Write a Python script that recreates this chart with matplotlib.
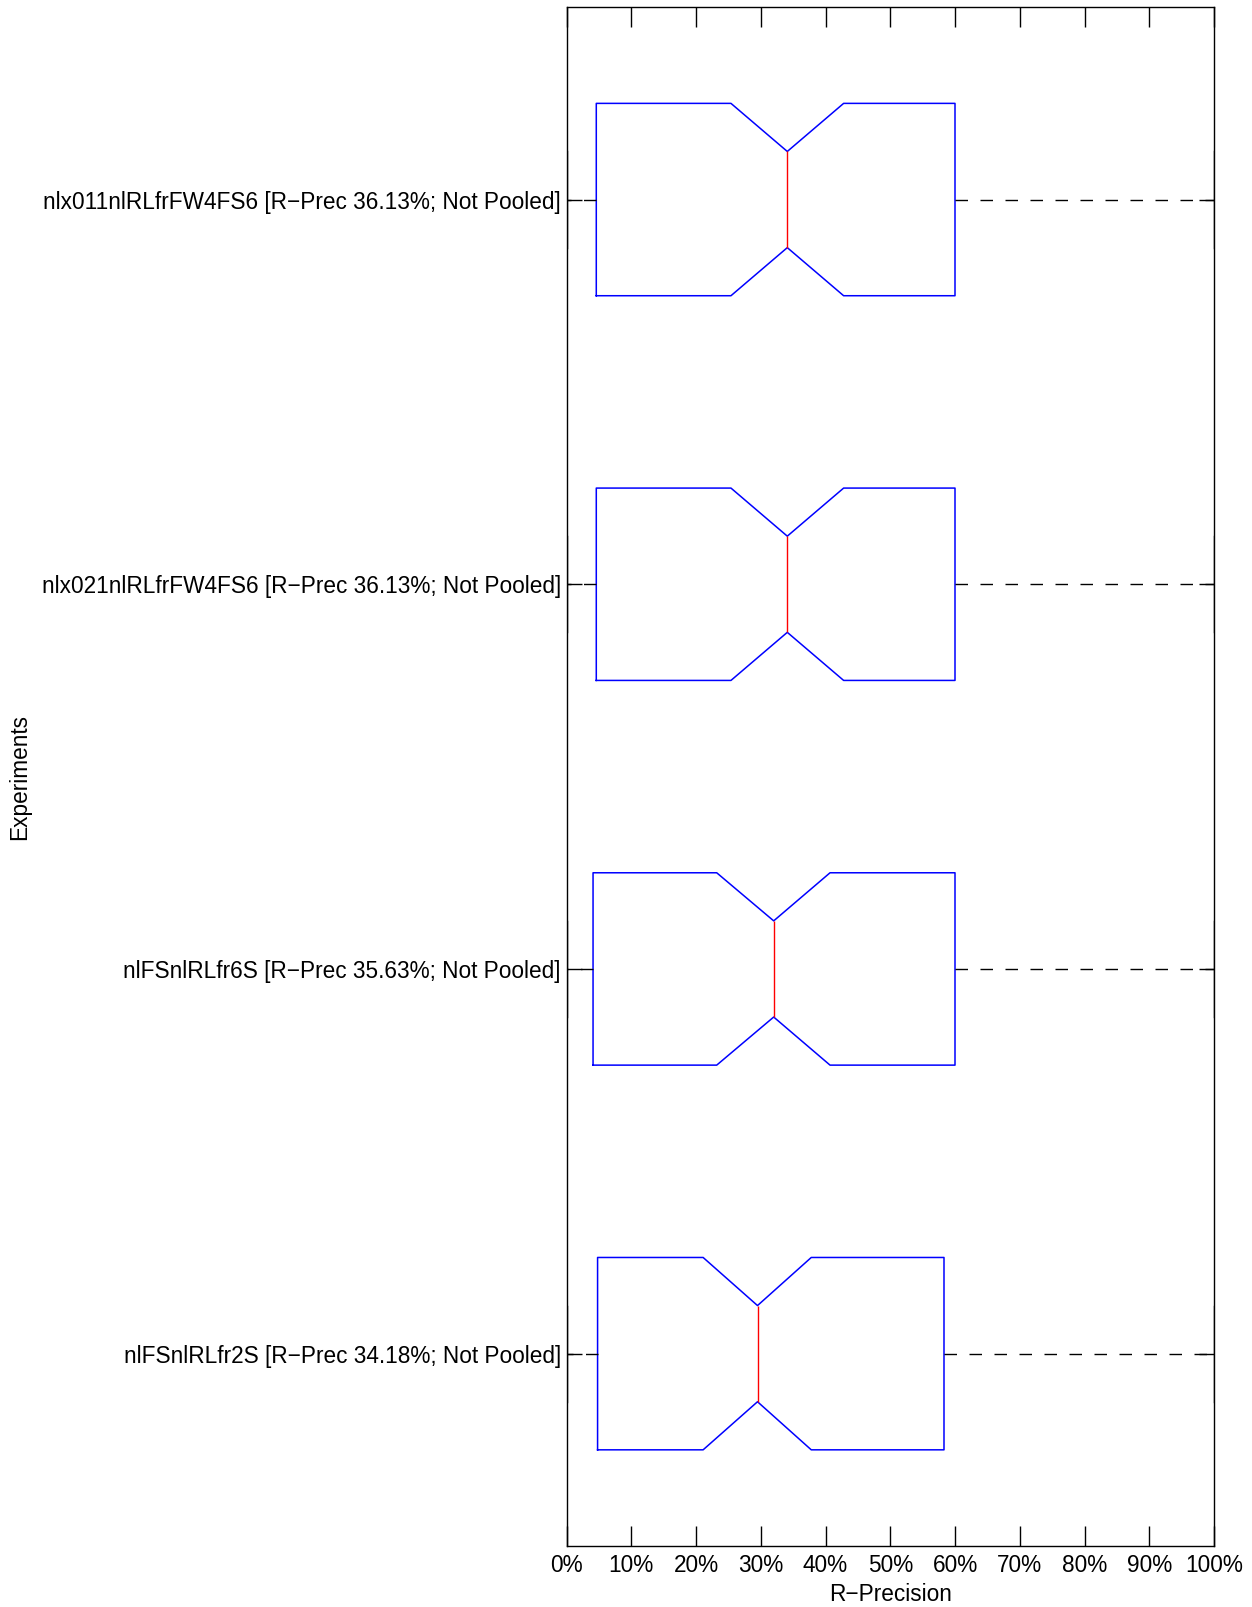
import matplotlib
matplotlib.use("Agg")
import matplotlib.pyplot as plt

plt.rcParams['font.family'] = ['Liberation Sans', 'DejaVu Sans']

# Experiments, top to bottom
experiments = [
    "nlx011nlRLfrFW4FS6 [R\u2212Prec 36.13%; Not Pooled]",
    "nlx021nlRLfrFW4FS6 [R\u2212Prec 36.13%; Not Pooled]",
    "nlFSnlRLfr6S [R\u2212Prec 35.63%; Not Pooled]",
    "nlFSnlRLfr2S [R\u2212Prec 34.18%; Not Pooled]",
]
# box statistics (percent)
whisker_low = [0.0, 0.0, 0.0, 0.0]
q1 = [4.6, 4.6, 4.1, 4.8]
notch_low = [25.4, 25.4, 23.2, 21.1]
median = [34.1, 34.1, 32.0, 29.5]
notch_high = [42.8, 42.8, 40.7, 37.8]
q3 = [60.0, 60.0, 60.0, 58.3]
whisker_high = [100.0, 100.0, 100.0, 100.0]

xticks = list(range(0, 101, 10))
xticklabels = [f"{t}%" for t in xticks]

fig = plt.figure(figsize=(12.52, 16.07), dpi=100)
ax = fig.add_axes([566.5 / 1252, 1 - 1546 / 1607, (1214 - 566.5) / 1252, (1546 - 7.2) / 1607])

n = len(experiments)
positions = list(range(n, 0, -1))
stats = []
for i in range(n):
    stats.append(dict(whislo=whisker_low[i], q1=q1[i], cilo=notch_low[i], med=median[i],
                      cihi=notch_high[i], q3=q3[i], whishi=whisker_high[i], fliers=[]))

ax.bxp(stats, positions=positions, widths=0.5, orientation='horizontal', shownotches=True,
       showfliers=False, manage_ticks=False,
       boxprops=dict(color='#0000ff', linewidth=1.1),
       medianprops=dict(color='#ff0000', linewidth=1.0),
       whiskerprops=dict(color='black', linewidth=1.0, linestyle=(0, (9, 9))),
       capprops=dict(color='black', linewidth=1.0))

ax.set_xlim(0, 100)
ax.set_ylim(0.5, n + 0.5)
ax.set_xticks(xticks)
ax.set_xticklabels(xticklabels)
ax.set_yticks(positions)
ax.set_yticklabels(experiments)

ax.tick_params(axis='both', which='both', direction='in', top=True, right=True,
               labelsize=16.3, color='black', width=1.0)
ax.tick_params(axis='x', length=14.5, pad=6)
ax.tick_params(axis='y', length=10.5, pad=4)
for s in ax.spines.values():
    s.set_linewidth(1.0)

ax.set_xlabel("R\u2212Precision", fontsize=16.3, labelpad=4)
ax.set_ylabel("Experiments", fontsize=16.3)
ax.yaxis.set_label_coords(-0.827, 0.5)

fig.savefig("out.png", dpi=100)
